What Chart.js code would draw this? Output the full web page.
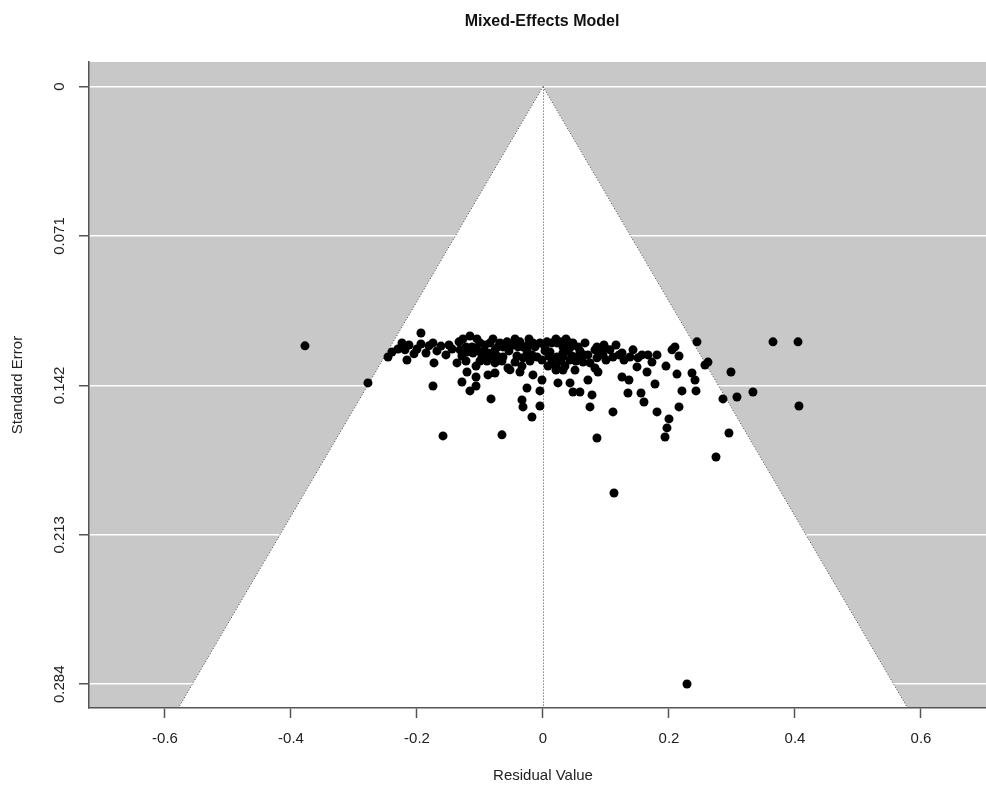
<!DOCTYPE html>
<html><head><meta charset="utf-8">
<script src="https://cdn.jsdelivr.net/npm/chart.js@4.4.0/dist/chart.umd.min.js"></script>
<style>html,body{margin:0;padding:0;background:#fff;overflow:hidden}</style>
</head><body>
<canvas id="c" width="986" height="785"></canvas>
<script>
const chartTitle = "Mixed-Effects Model";
const xAxisTitle = "Residual Value";
const yAxisTitle = "Standard Error";
const xTicks = [-0.6, -0.4, -0.2, 0, 0.2, 0.4, 0.6];
const xTickLabels = ["-0.6", "-0.4", "-0.2", "0", "0.2", "0.4", "0.6"];
const yTicks = [0, 0.071, 0.142, 0.213, 0.284];
const yTickLabels = ["0", "0.071", "0.142", "0.213", "0.284"];
const xRange = [-0.7206, 0.7032];
const yRange = [-0.0117, 0.2953];
const zCrit = 1.96;

const residuals = [
  -0.1937,-0.2238,-0.2127,-0.2397,-0.2460,-0.2190,-0.2048,-0.2159,-0.1937,-0.1810,-0.1746,-0.1683,-0.1730,-0.1540,-0.1492,-0.1333,-0.1159,-0.1317,-0.1206,-0.1365,-0.1206,-0.1286,-0.1159,-0.1063,-0.1063,-0.1746,-0.2778,-0.1587,-0.3778,
  -0.1079,-0.1000,-0.0921,-0.0841,-0.0762,-0.0683,-0.0571,-0.0524,-0.0476,-0.0365,-0.0317,-0.0238,-0.0159,-0.0048,0.0063,0.0143,0.0222,0.0302,0.0397,0.0476,0.0556,0.0667,0.0825,
  -0.1111,-0.0968,-0.0873,-0.0762,-0.0635,-0.0556,-0.0444,-0.0317,-0.0175,-0.0095,-0.0016,0.0111,0.0222,0.0317,0.0429,0.0540,0.0635,0.0714,0.0857,
  -0.0873,-0.0762,-0.0524,-0.0365,-0.0159,-0.0016,0.0238,0.0429,0.0476,0.0587,0.0714,0.0778,-0.0254,-0.0048,-0.0825,-0.0333,-0.0317,-0.0175,-0.0048,0.0746,-0.0651,
  0.0857,0.0905,0.0984,0.1063,0.1111,0.1254,0.1381,0.1429,0.1508,0.1571,0.1667,0.1810,0.1730,0.1492,0.2048,0.2095,0.2159,0.2444,0.2571,0.2619,0.0746,0.0825,0.0873,0.1254,0.1365,0.1651,0.1952,0.2127,0.2365,0.2413,0.1778,0.2206,0.2429,0.1349,0.1556,0.1603,0.1111,0.1810,0.2159,0.2000,0.1968,0.1937,0.0857,
  0.3651,0.4048,0.2984,0.3333,0.2857,0.3079,0.4063,0.2952,0.2746,0.1127,0.2286,
  -0.1270,-0.1048,-0.0794,-0.0444,-0.0222,0.0206,0.0365,
  -0.1222,-0.1127,-0.0714,-0.0635,-0.0397,-0.0127,0.0032,0.0317,0.0444,
  -0.1032,-0.0937,-0.0540,-0.0254,0.0032,0.0397,0.0587,
  -0.1286,-0.0825,-0.0730,-0.0413,-0.0254,0.0095,0.0317,0.0460,
  -0.1222,-0.1000,-0.0889,-0.0651,-0.0206,0.0143,0.0286,0.0524,
  -0.1063,-0.0333,0.0079,0.0206,0.0349,
  0.0206,0.0317,0.0508,
  0.0968,0.1159,0.0651,0.0952,0.1206,0.1000,0.1286,
  -0.2302,-0.2000,-0.1857,-0.1444,-0.1619
];
const standardErrors = [
  0.1171,0.1218,0.1228,0.1261,0.1285,0.1251,0.1270,0.1299,0.1223,0.1232,0.1218,0.1256,0.1313,0.1275,0.1228,0.1213,0.1185,0.1251,0.1261,0.1313,0.1356,0.1404,0.1446,0.1380,0.1423,0.1423,0.1408,0.1660,0.1232,
  0.1242,0.1218,0.1228,0.1218,0.1251,0.1218,0.1213,0.1237,0.1218,0.1213,0.1237,0.1228,0.1218,0.1218,0.1213,0.1218,0.1218,0.1213,0.1213,0.1218,0.1237,0.1218,0.1251,
  0.1266,0.1285,0.1266,0.1313,0.1285,0.1337,0.1309,0.1289,0.1275,0.1285,0.1299,0.1261,0.1285,0.1266,0.1299,0.1285,0.1309,0.1275,0.1289,
  0.1370,0.1361,0.1346,0.1356,0.1370,0.1394,0.1408,0.1408,0.1451,0.1451,0.1394,0.1465,0.1432,0.1446,0.1484,0.1489,0.1522,0.1570,0.1518,0.1522,0.1655,
  0.1237,0.1261,0.1242,0.1251,0.1285,0.1266,0.1285,0.1251,0.1289,0.1275,0.1275,0.1275,0.1309,0.1332,0.1251,0.1237,0.1280,0.1213,0.1323,0.1309,0.1313,0.1337,0.1356,0.1380,0.1394,0.1356,0.1328,0.1366,0.1361,0.1394,0.1413,0.1446,0.1446,0.1456,0.1456,0.1499,0.1546,0.1546,0.1522,0.1579,0.1622,0.1665,0.1670,
  0.1213,0.1213,0.1356,0.1451,0.1484,0.1475,0.1518,0.1646,0.1760,0.1931,0.2839,
  0.1199,0.1199,0.1199,0.1199,0.1199,0.1199,0.1199,
  0.1237,0.1237,0.1237,0.1237,0.1237,0.1237,0.1237,0.1237,0.1237,
  0.1256,0.1256,0.1256,0.1256,0.1256,0.1256,0.1256,
  0.1280,0.1280,0.1280,0.1280,0.1280,0.1280,0.1280,0.1280,
  0.1304,0.1304,0.1304,0.1304,0.1304,0.1304,0.1304,0.1304,
  0.1328,0.1328,0.1328,0.1328,0.1328,
  0.1347,0.1347,0.1347,
  0.1228,0.1228,0.1275,0.1275,0.1275,0.1299,0.1299,
  0.1247,0.1247,0.1266,0.1247,0.1233
];

const FONT = '"Liberation Sans", Arial, Helvetica, sans-serif';
const AXIS_COLOR = '#555';

const points = residuals.map((r, i) => ({ x: r, y: standardErrors[i] }));

const funnelPlugin = {
  id: 'funnel',
  beforeDraw(chart) {
    const { ctx, chartArea: a, scales: { x, y } } = chart;
    ctx.save();
    ctx.fillStyle = '#c8c8c8';
    ctx.fillRect(a.left, a.top, a.right - a.left, a.bottom - a.top);
    ctx.beginPath();
    ctx.rect(a.left, a.top, a.right - a.left, a.bottom - a.top);
    ctx.clip();
    const seB = y.max;
    ctx.beginPath();
    ctx.moveTo(x.getPixelForValue(0), y.getPixelForValue(0));
    ctx.lineTo(x.getPixelForValue(-zCrit * seB), y.getPixelForValue(seB));
    ctx.lineTo(x.getPixelForValue(zCrit * seB), y.getPixelForValue(seB));
    ctx.closePath();
    ctx.fillStyle = '#ffffff';
    ctx.fill();
    ctx.restore();
  },
  beforeDatasetsDraw(chart) {
    const { ctx, chartArea: a, scales: { x, y } } = chart;
    ctx.save();
    ctx.beginPath();
    ctx.rect(a.left, a.top, a.right - a.left, a.bottom - a.top);
    ctx.clip();
    const seB = y.max;
    const x0 = x.getPixelForValue(0), y0 = y.getPixelForValue(0);
    const yb = y.getPixelForValue(seB);
    ctx.strokeStyle = '#444';
    ctx.lineWidth = 1;
    ctx.setLineDash([1, 2]);
    ctx.beginPath();
    ctx.moveTo(x0, y0); ctx.lineTo(x.getPixelForValue(-zCrit * seB), yb);
    ctx.moveTo(x0, y0); ctx.lineTo(x.getPixelForValue(zCrit * seB), yb);
    ctx.stroke();
    ctx.beginPath();
    ctx.moveTo(Math.round(x0) + 0.5, y0); ctx.lineTo(Math.round(x0) + 0.5, yb);
    ctx.stroke();
    ctx.restore();
  },
  afterDraw(chart) {
    const { ctx, scales: { y } } = chart;
    ctx.save();
    ctx.fillStyle = '#111';
    ctx.textAlign = 'center';
    ctx.textBaseline = 'middle';
    ctx.font = 'bold 16px ' + FONT;
    ctx.fillText(chartTitle, 542, 22);
    ctx.font = '15px ' + FONT;
    ctx.fillStyle = '#222';
    ctx.fillText(xAxisTitle, 543, 776);
    ctx.save();
    ctx.translate(18, 385);
    ctx.rotate(-Math.PI / 2);
    ctx.fillText(yAxisTitle, 0, 0);
    ctx.restore();
    yTicks.forEach((v, i) => {
      ctx.save();
      ctx.translate(60, y.getPixelForValue(v));
      ctx.rotate(-Math.PI / 2);
      ctx.fillText(yTickLabels[i], 0, 0);
      ctx.restore();
    });
    ctx.restore();
  }
};

new Chart(document.getElementById('c'), {
  type: 'scatter',
  data: {
    datasets: [{
      data: points,
      pointRadius: 4.5,
      pointHoverRadius: 4.5,
      pointBackgroundColor: '#000',
      pointBorderWidth: 0,
      pointBorderColor: '#000'
    }]
  },
  options: {
    responsive: false,
    animation: false,
    devicePixelRatio: 1,
    layout: { autoPadding: false, padding: { top: 62, right: 0, left: 0, bottom: 0 } },
    plugins: { legend: { display: false }, tooltip: { enabled: false }, title: { display: false } },
    scales: {
      x: {
        type: 'linear',
        min: xRange[0], max: xRange[1],
        afterBuildTicks: s => { s.ticks = xTicks.map(v => ({ value: v })); },
        afterFit: s => { s.height = 77; s.paddingLeft = 0; s.paddingRight = 0; },
        grid: { drawOnChartArea: false, drawTicks: true, tickLength: 10, tickColor: AXIS_COLOR, tickWidth: 1.5 },
        border: { display: true, color: AXIS_COLOR, width: 1.5 },
        ticks: {
          autoSkip: false, maxRotation: 0, minRotation: 0, padding: 12,
          color: '#222', font: { family: FONT, size: 15 },
          callback: (v, i) => xTickLabels[i]
        }
      },
      y: {
        type: 'linear',
        reverse: true,
        min: yRange[0], max: yRange[1],
        afterBuildTicks: s => { s.ticks = yTicks.map(v => ({ value: v })); },
        afterFit: s => { s.width = 89; s.paddingTop = 0; s.paddingBottom = 0; },
        grid: { color: '#ffffff', lineWidth: 1.5, drawTicks: true, tickLength: 10, tickColor: AXIS_COLOR, tickWidth: 1.5 },
        border: { display: true, color: AXIS_COLOR, width: 1.5 },
        ticks: { display: false }
      }
    }
  },
  plugins: [funnelPlugin]
});
</script>
</body></html>
